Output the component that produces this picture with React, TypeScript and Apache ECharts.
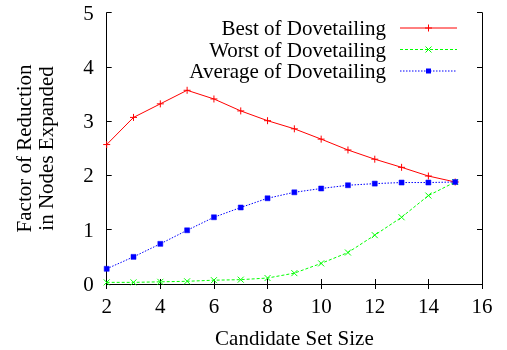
import React, { useEffect, useRef } from "react";
import * as echarts from "echarts";

const candidateSizes = [2, 3, 4, 5, 6, 7, 8, 9, 10, 11, 12, 13, 14, 15];
const bestValues = [2.57, 3.07, 3.32, 3.57, 3.41, 3.19, 3.01, 2.86, 2.67, 2.47, 2.3, 2.15, 1.99, 1.88];
const worstValues = [0.03, 0.03, 0.04, 0.05, 0.07, 0.08, 0.11, 0.2, 0.38, 0.58, 0.9, 1.23, 1.63, 1.88];
const averageValues = [0.28, 0.5, 0.74, 0.99, 1.23, 1.41, 1.58, 1.69, 1.76, 1.82, 1.85, 1.87, 1.87, 1.88];
const seriesNames = ["Best of Dovetailing", "Worst of Dovetailing", "Average of Dovetailing"];
const seriesColors = ["#ff0000", "#00ff00", "#0000ff"];
const seriesDashes: (number[] | null)[] = [null, [3, 2], [1.5, 1.5]];
const xTitle = "Candidate Set Size";
const yTitleLines = ["Factor of Reduction", "in Nodes Expanded"];

const FONT = "Liberation Serif";
const FS = 21;

const toPairs = (vals: number[]) => candidateSizes.map((x, i) => [x, vals[i]]);

function legendGraphics() {
  const rowsY = [28, 49.5, 71];
  const x1 = 400, x2 = 457, cx = 428.5;
  const els: any[] = [];
  seriesNames.forEach((name, i) => {
    const y = rowsY[i];
    const c = seriesColors[i];
    els.push({
      type: "text", x: 386, y, style: {
        text: name, fontFamily: FONT, fontSize: FS, fill: "#000", align: "right", verticalAlign: "middle",
      },
    });
    els.push({
      type: "line", shape: { x1, y1: y, x2, y2: y },
      style: { stroke: c, lineWidth: 1, lineDash: seriesDashes[i] || undefined },
    });
    if (i === 0) {
      els.push({ type: "line", shape: { x1: cx - 3.5, y1: y, x2: cx + 3.5, y2: y }, style: { stroke: c, lineWidth: 1 } });
      els.push({ type: "line", shape: { x1: cx, y1: y - 3.5, x2: cx, y2: y + 3.5 }, style: { stroke: c, lineWidth: 1 } });
    } else if (i === 1) {
      els.push({ type: "line", shape: { x1: cx - 3, y1: y - 3, x2: cx + 3, y2: y + 3 }, style: { stroke: c, lineWidth: 1 } });
      els.push({ type: "line", shape: { x1: cx - 3, y1: y + 3, x2: cx + 3, y2: y - 3 }, style: { stroke: c, lineWidth: 1 } });
    } else {
      els.push({ type: "rect", shape: { x: cx - 2.5, y: y - 2.5, width: 5, height: 5 }, style: { fill: c } });
    }
  });
  return els;
}

export default function App() {
  const ref = useRef<HTMLDivElement>(null);
  useEffect(() => {
    if (!ref.current) return;
    const chart = echarts.init(ref.current, undefined, { renderer: "svg" });
    const axisLine = { show: true, lineStyle: { color: "#000", width: 1 } };
    const tick = { show: true, inside: true, length: 5, lineStyle: { color: "#000", width: 1 } };
    chart.setOption({
      animation: false,
      grid: { left: 106.7, right: 25, top: 12.7, bottom: 66 },
      xAxis: [
        {
          type: "value", min: 2, max: 16, interval: 2, position: "bottom",
          axisLine, axisTick: tick, splitLine: { show: false },
          axisLabel: { fontFamily: FONT, fontSize: FS, color: "#000", margin: 11 },
        },
        {
          type: "value", min: 2, max: 16, interval: 2, position: "top",
          axisLine, axisTick: tick, splitLine: { show: false }, axisLabel: { show: false },
        },
      ],
      yAxis: [
        {
          type: "value", min: 0, max: 5, interval: 1, position: "left",
          axisLine, axisTick: tick, splitLine: { show: false },
          axisLabel: { fontFamily: FONT, fontSize: FS, color: "#000", margin: 13 },
        },
        {
          type: "value", min: 0, max: 5, interval: 1, position: "right",
          axisLine, axisTick: tick, splitLine: { show: false }, axisLabel: { show: false },
        },
      ],
      series: [
        {
          name: seriesNames[0], type: "line", data: toPairs(bestValues),
          symbol: "path://M5,0 L5,10 M0,5 L10,5", symbolSize: 7,
          lineStyle: { color: seriesColors[0], width: 1, type: "solid" },
          itemStyle: { color: seriesColors[0], borderColor: seriesColors[0], borderWidth: 1 },
        },
        {
          name: seriesNames[1], type: "line", data: toPairs(worstValues),
          symbol: "path://M0,0 L10,10 M0,10 L10,0", symbolSize: 6,
          lineStyle: { color: seriesColors[1], width: 1, type: [3, 2] },
          itemStyle: { color: seriesColors[1], borderColor: seriesColors[1], borderWidth: 1 },
        },
        {
          name: seriesNames[2], type: "line", data: toPairs(averageValues),
          symbol: "rect", symbolSize: 5,
          lineStyle: { color: seriesColors[2], width: 1, type: [1.5, 1.5] },
          itemStyle: { color: seriesColors[2], borderColor: seriesColors[2], borderWidth: 0.5 },
        },
      ],
      graphic: [
        ...legendGraphics(),
        {
          type: "text", x: 294.4, y: 338, style: {
            text: xTitle, fontFamily: FONT, fontSize: FS, fill: "#000", align: "center", verticalAlign: "middle",
          },
        },
        {
          type: "text", x: 24, y: 148.4, rotation: Math.PI / 2, style: {
            text: yTitleLines[0], fontFamily: FONT, fontSize: FS, fill: "#000", align: "center", verticalAlign: "middle",
          },
        },
        {
          type: "text", x: 46, y: 148.4, rotation: Math.PI / 2, style: {
            text: yTitleLines[1], fontFamily: FONT, fontSize: FS, fill: "#000", align: "center", verticalAlign: "middle",
          },
        },
      ],
    });
    return () => chart.dispose();
  }, []);
  return <div ref={ref} style={{ position: "fixed", left: 0, top: 0, width: 507, height: 350 }} />;
}
